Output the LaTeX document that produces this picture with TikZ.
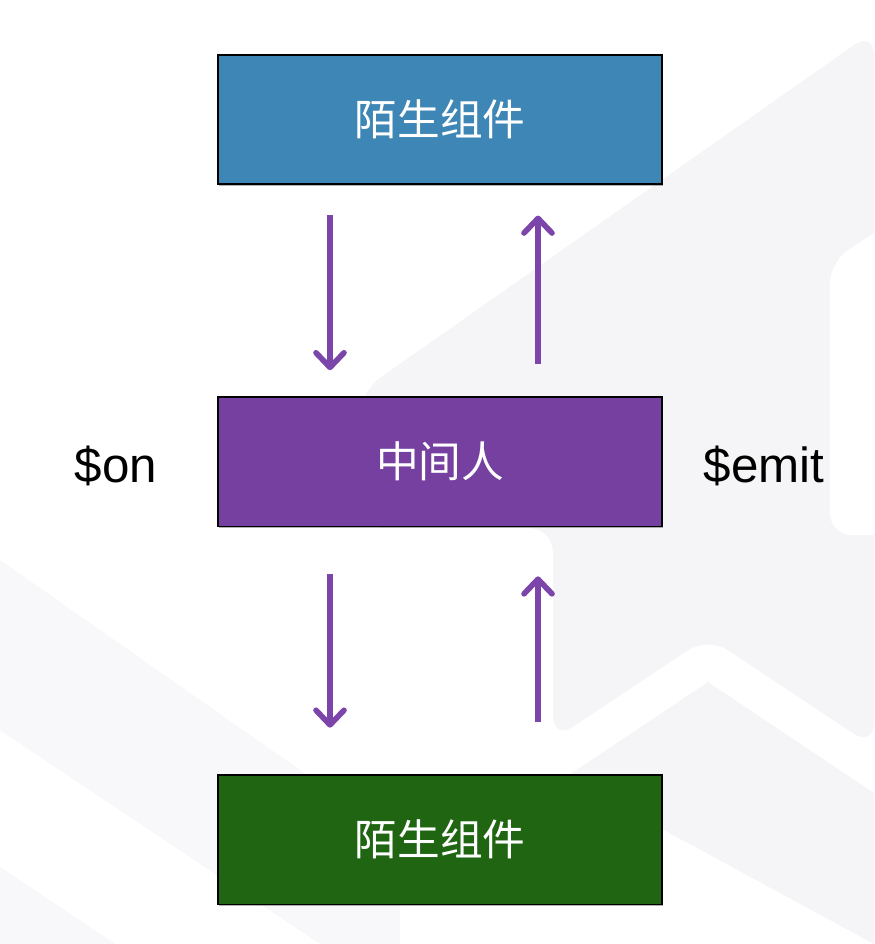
\documentclass[tikz,border=0pt]{standalone}
\usepackage{fontspec}
\setmainfont{Liberation Sans}
\newfontfamily\cjk{Noto Sans CJK SC}
\usetikzlibrary{arrows.meta, positioning, shadows}

\definecolor{strangerblue}{RGB}{62,134,181}
\definecolor{brokerpurple}{RGB}{118,64,160}
\definecolor{strangergreen}{RGB}{31,101,18}
\definecolor{busarrow}{RGB}{123,69,170}
\definecolor{bgshade}{RGB}{245,245,247}
\definecolor{bgfaint}{RGB}{248,248,250}

\begin{document}
\begin{tikzpicture}[
    x=0.75pt, y=-0.75pt,
    comp/.style={draw=black, line width=1.1pt, minimum width=333pt, minimum height=97pt, align=center,
        text=white, font=\cjk\fontsize{32}{38}\selectfont,
        drop shadow={shadow xshift=0.6pt, shadow yshift=-1.2pt, opacity=0.3, fill=black}},
    msg/.style={-{Straight Barb[length=11pt, width=21pt, round]}, line width=4.2pt, draw=busarrow},
    api/.style={font=\fontsize{37}{44}\selectfont}
]
    \fill[white] (0,0) rectangle (874,944);
    \useasboundingbox (0,0) rectangle (874,944);

    \fill[bgshade, rounded corners=18pt] (360,392) -- (874,31) -- (874,747) -- (708,637) -- (553,740) -- (553,528) -- (360,528) -- cycle;
    \fill[white, rounded corners=16pt] (830,262) -- (900,216) -- (900,535) -- (830,535) -- cycle;
    \fill[bgshade] (560,781) -- (708,682) -- (874,793) -- (874,944) -- (664,830) -- (560,830) -- cycle;
    \fill[bgfaint] (0,560) -- (400,840) -- (400,944) -- (320,944) -- (0,730) -- cycle;
    \fill[bgfaint] (0,867) -- (115,944) -- (0,944) -- cycle;

    \node[comp, fill=strangerblue] (upper) at (440,119.5) {陌生组件};
    \node[comp, fill=brokerpurple, below=158.5pt of upper] (broker) {中间人};
    \node[comp, fill=strangergreen, below=185.5pt of broker] (lower) {陌生组件};

    \node[api] (on) at (116,466) {\$on};
    \node[api] (emit) at (764,466) {\$emit};

    \coordinate (downcol) at (330,0);
    \coordinate (upcol) at (538,0);

    \draw[msg, shorten <=22.5pt, shorten >=19.5pt] (upper.south -| downcol) -- (broker.north -| downcol);
    \draw[msg, shorten <=24.5pt, shorten >=23pt] (broker.north -| upcol) -- (upper.south -| upcol);
    \draw[msg, shorten <=35pt, shorten >=35pt] (broker.south -| downcol) -- (lower.north -| downcol);
    \draw[msg, shorten <=39pt, shorten >=37pt] (lower.north -| upcol) -- (broker.south -| upcol);
\end{tikzpicture}
\end{document}
